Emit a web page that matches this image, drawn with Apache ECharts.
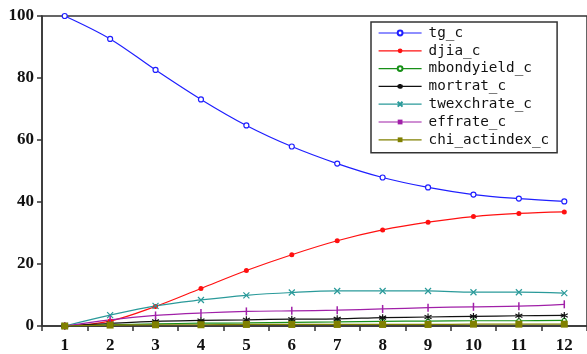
<!DOCTYPE html>
<html><head><meta charset="utf-8">
<script src="https://cdn.jsdelivr.net/npm/echarts@6/dist/echarts.min.js"></script>
<style>html,body{margin:0;padding:0;background:#fff}#c{width:587px;height:354px}</style>
</head><body><div id="c"></div>
<script>
const categories = ['1','2','3','4','5','6','7','8','9','10','11','12'];
const yTicks = [0, 20, 40, 60, 80, 100];
const tg_c = [100, 92.6, 82.6, 73.1, 64.7, 57.9, 52.4, 47.9, 44.7, 42.4, 41.1, 40.2];
const djia_c = [0, 1.6, 6.3, 12.1, 17.9, 23.0, 27.5, 31.0, 33.5, 35.3, 36.3, 36.8];
const mbondyield_c = [0, 0.4, 0.7, 0.9, 1.0, 1.2, 1.3, 1.5, 1.6, 1.7, 1.7, 1.8];
const mortrat_c = [0, 0.8, 1.5, 1.8, 2.0, 2.2, 2.3, 2.7, 2.9, 3.1, 3.3, 3.4];
const twexchrate_c = [0, 3.5, 6.5, 8.4, 9.9, 10.8, 11.3, 11.3, 11.3, 10.9, 10.9, 10.6];
const effrate_c = [0, 2.0, 3.4, 4.2, 4.7, 4.9, 5.1, 5.5, 5.9, 6.2, 6.4, 7.0];
const chi_actindex_c = [0, 0.3, 0.4, 0.4, 0.5, 0.5, 0.5, 0.5, 0.5, 0.6, 0.6, 0.6];

const seriesDefs = [
  {name:'tg_c', data:tg_c, color:'#1f1fff', symbol:'circle', size:5, empty:true},
  {name:'djia_c', data:djia_c, color:'#ff1010', symbol:'circle', size:5},
  {name:'mbondyield_c', data:mbondyield_c, color:'#189018', symbol:'circle', size:4, empty:true},
  {name:'mortrat_c', data:mortrat_c, color:'#111111', symbol:'path://M0,-1L0,1M-0.87,-0.5L0.87,0.5M-0.87,0.5L0.87,-0.5', size:7, stroke:true},
  {name:'twexchrate_c', data:twexchrate_c, color:'#2a9a9a', symbol:'path://M-1,-1L1,1M-1,1L1,-1', size:6, stroke:true},
  {name:'effrate_c', data:effrate_c, color:'#a020a8', symbol:'rect', size:[1.5,8]},
  {name:'chi_actindex_c', data:chi_actindex_c, color:'#808000', symbol:'rect', size:7}
];

const chart = echarts.init(document.getElementById('c'), null, {renderer:'canvas'});
chart.setOption({
  animation:false,
  backgroundColor:'#fff',
  grid:{left:42, top:16, bottom:27, right:-5, show:true, borderColor:'#333', borderWidth:1.5},
  xAxis:{type:'category', data:categories, boundaryGap:true,
    axisLine:{lineStyle:{color:'#333', width:1.5}},
    axisTick:{show:true, alignWithLabel:false, length:5, inside:false, lineStyle:{color:'#333', width:1.5}},
    axisLabel:{color:'#111', fontFamily:'Liberation Serif', fontWeight:'bold', fontSize:17, margin:11},
    splitLine:{show:false}},
  yAxis:{type:'value', min:yTicks[0], max:yTicks[yTicks.length-1], interval:20,
    axisLine:{show:true, lineStyle:{color:'#333', width:1.5}},
    axisTick:{show:true, length:5, lineStyle:{color:'#333', width:1.5}},
    axisLabel:{color:'#111', fontFamily:'Liberation Serif', fontWeight:'bold', fontSize:17, margin:8},
    splitLine:{show:false}},
  legend:{left:371, top:22, orient:'vertical', borderColor:'#333', borderWidth:1.5,
    padding:[4,8,6,7], itemGap:3.8, itemWidth:43, itemHeight:6,
    lineStyle:{width:1.2},
    textStyle:{fontFamily:'DejaVu Sans Mono', fontSize:14.3, color:'#111', padding:[0,0,0,2], height:14, lineHeight:14},
    data: seriesDefs.map(s=>s.name)},
  series: seriesDefs.map(s=>({
    name:s.name, type:'line', data:s.data, smooth:0.35,
    symbol:s.symbol, symbolSize:s.size, showSymbol:true,
    lineStyle:{color:s.color, width:1.2, type:'solid'},
    itemStyle:{color: s.empty ? '#ffffff' : s.color, borderColor:s.color, borderWidth: (s.stroke||s.empty)?1.2:0, borderType:'solid'}
  }))
});
</script></body></html>
